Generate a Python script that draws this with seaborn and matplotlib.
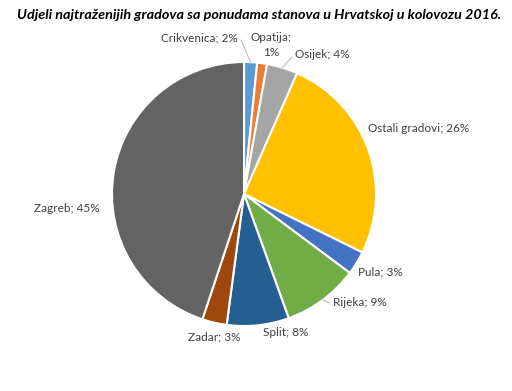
import numpy as np
import matplotlib
matplotlib.use("Agg")
import matplotlib.pyplot as plt
import seaborn as sns

sns.set_style("white")
plt.rcParams['font.family'] = ['Lato', 'DejaVu Sans']

# data (share in %)
cities = ['Crikvenica', 'Opatija', 'Osijek', 'Ostali gradovi', 'Pula',
          'Rijeka', 'Split', 'Zadar', 'Zagreb']
shares = [1.6, 1.2, 3.8, 25.7, 2.9, 9.3, 7.6, 3.0, 44.9]
pct_labels = ['2%', '1%', '4%', '26%', '3%', '9%', '8%', '3%', '45%']
colors = ['#5B9BD5', '#ED7D31', '#A5A5A5', '#FFC000', '#4472C4',
          '#70AD47', '#255E91', '#9E480E', '#636363']

# label placement in pixels (x, y from top), alignment
label_pos = [(238, 38, 'right'), (271, 45, 'center'), (295, 55, 'left'),
             (368, 128, 'left'), (358, 272, 'left'), (333, 303, 'left'),
             (263, 332, 'left'), (188, 337, 'left'), (100, 208, 'right')]
leaders = {0: (241, 40), 2: (292, 57), 5: (330, 303)}

W, H = 512, 391
fig = plt.figure(figsize=(W / 100, H / 100), dpi=100)
ax = fig.add_axes([0, 0, 1, 1])

cx, cy, r = 244, H - 194, 132
wedges, _ = ax.pie(shares, colors=colors, startangle=90, counterclock=False,
                   center=(cx, cy), radius=r, frame=True,
                   wedgeprops=dict(edgecolor='white', linewidth=1.5))
ax.set_xlim(0, W)
ax.set_ylim(0, H)
ax.set_aspect('equal')
ax.axis('off')

for i, (city, p) in enumerate(zip(cities, pct_labels)):
    x, y, ha = label_pos[i]
    sep = ';\n' if city == 'Opatija' else '; '
    ax.text(x, H - y, f'{city}{sep}{p}', ha=ha, va='center', fontsize=8.5,
            color='#404040', multialignment='center', linespacing=1.4)
    if i in leaders:
        w = wedges[i]
        ang = np.deg2rad((w.theta1 + w.theta2) / 2)
        ex, ey = cx + r * np.cos(ang), cy + r * np.sin(ang)
        lx, ly = leaders[i]
        ax.plot([lx, ex], [H - ly, ey], color='#BFBFBF', lw=0.8)

fig.text(259 / W, 1 - 15 / H,
         'Udjeli najtraženijih gradova sa ponudama stanova u Hrvatskoj u kolovozu 2016.',
         ha='center', va='center', fontsize=10.4, fontweight='bold',
         fontstyle='italic', color='black')

fig.savefig('out.png', dpi=100, facecolor='white')
